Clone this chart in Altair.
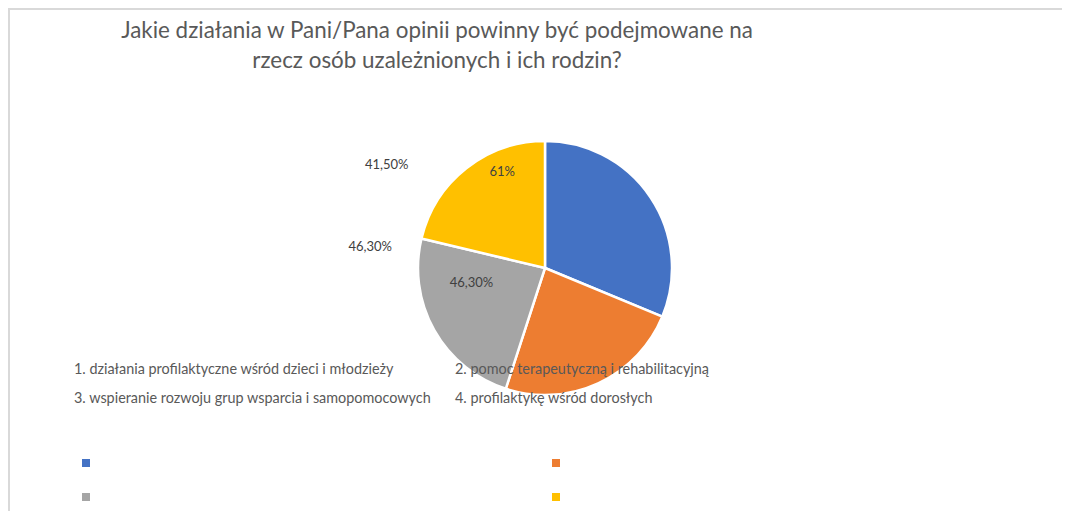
import altair as alt
import pandas as pd

# ---- data ----
categories = ["1", "2", "3", "4"]
values = [61.0, 46.3, 46.3, 41.5]
colors = ["#4472C4", "#ED7D31", "#A5A5A5", "#FFC000"]
label_inner = ["", "", "46,30%", "61%"]
label_outer = ["", "", "46,30%", "41,50%"]
legend_texts = [
    "1. działania profilaktyczne wśród dzieci i młodzieży",
    "2. pomoc terapeutyczną i rehabilitacyjną",
    "3. wspieranie rozwoju grup wsparcia i samopomocowych",
    "4. profilaktykę wśród dorosłych",
]
title_lines = [
    "Jakie działania w Pani/Pana opinii powinny być podejmowane na",
    "rzecz osób uzależnionych i ich rodzin?",
]

FONT = "Lato"
W, H = 1054, 503
CX, CY, R = 537, 260, 127

df = pd.DataFrame({
    "cat": categories,
    "value": values,
    "order": list(range(len(categories))),
    "inner": label_inner,
    "outer": label_outer,
})

theta = alt.Theta("value:Q", stack=True)
order = alt.Order("order:Q")

pie = alt.Chart(df).mark_arc(outerRadius=R, stroke="white", strokeWidth=2.5).encode(
    theta=theta,
    order=order,
    x=alt.value(CX),
    y=alt.value(CY),
    color=alt.Color(
        "cat:N",
        scale=alt.Scale(domain=categories, range=colors),
        legend=alt.Legend(
            orient="none", legendX=74, legendY=451, columns=2, direction="horizontal",
            title=None, symbolType="square", symbolSize=64, symbolStrokeWidth=0,
            labelExpr="''", labelFontSize=8, labelOffset=0,
            columnPadding=462, rowPadding=26, padding=0,
        ),
    ),
)


def pct_layer(col, cat, radius, toff):
    return alt.Chart(df).transform_calculate(
        t=f"datum.cat == '{cat}' ? datum.{col} : ''"
    ).mark_text(
        radius=radius, thetaOffset=toff, font=FONT, fontSize=13, color="#404040"
    ).encode(
        theta=theta, order=order, x=alt.value(CX), y=alt.value(CY), text="t:N"
    )


labels = [
    pct_layer("inner", "4", 105, 0.248),
    pct_layer("outer", "4", 189, -0.325),
    pct_layer("outer", "3", 176, 0.630),
    pct_layer("inner", "3", 75, 0.311),
]

leg_df = pd.DataFrame({
    "text": legend_texts,
    "col": [i % 2 for i in range(len(legend_texts))],
    "row": [i // 2 for i in range(len(legend_texts))],
})
legend_text = alt.Chart(leg_df).mark_text(
    align="left", baseline="middle", font=FONT, fontSize=14.4, color="#595959"
).encode(
    x=alt.X("col:Q", scale=alt.Scale(domain=[0, 1], range=[66, 447]), axis=None),
    y=alt.Y("row:Q", scale=alt.Scale(domain=[0, 1], range=[362, 391]), axis=None),
    text="text:N",
)

title_df = pd.DataFrame({"line": title_lines, "i": list(range(len(title_lines)))})
title1 = alt.Chart(title_df).transform_filter("datum.i == 0").mark_text(
    align="center", baseline="middle", font=FONT, fontSize=22.4, color="#595959"
).encode(x=alt.value(429), y=alt.value(23), text="line:N")
title2 = alt.Chart(title_df).transform_filter("datum.i == 1").mark_text(
    align="center", baseline="middle", font=FONT, fontSize=22.4, color="#595959"
).encode(x=alt.value(429), y=alt.value(53), text="line:N")

top_rule = alt.Chart(df).mark_rule(color="#d9d9d9", strokeWidth=2).encode(
    x=alt.value(0), x2=alt.value(W), y=alt.value(1)
)
left_rule = alt.Chart(df).mark_rule(color="#d9d9d9", strokeWidth=2).encode(
    x=alt.value(1), y=alt.value(0), y2=alt.value(H)
)

chart = alt.layer(
    top_rule, left_rule, pie, *labels, legend_text, title1, title2
).properties(
    width=W, height=H, padding=0, autosize=alt.AutoSizeParams(type="none")
).configure_view(stroke=None)

chart.save("out.html", embed_options={"renderer": "svg", "actions": False})
